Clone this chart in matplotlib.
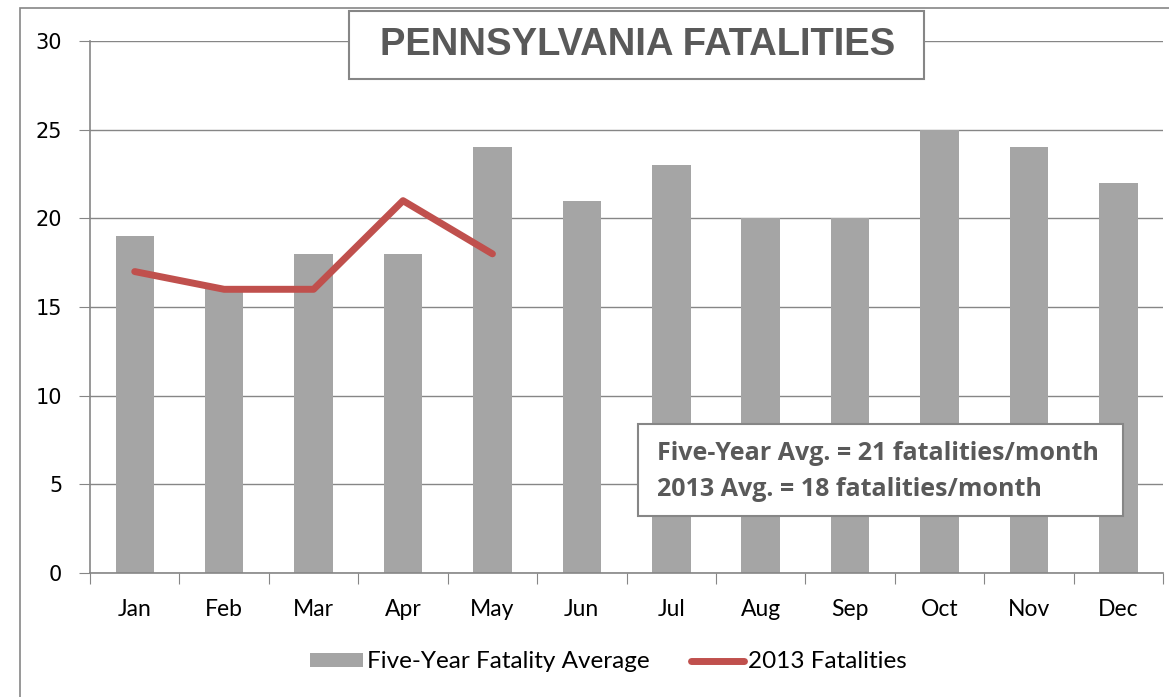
import matplotlib.pyplot as plt
from matplotlib.patches import Rectangle
from matplotlib.lines import Line2D
from matplotlib.patches import Patch

months = ["Jan", "Feb", "Mar", "Apr", "May", "Jun", "Jul", "Aug", "Sep", "Oct", "Nov", "Dec"]
five_year_avg = [19, 16, 18, 18, 24, 21, 23, 20, 20, 25, 24, 22]
fatalities_2013 = [17, 16, 16, 21, 18]

W, H = 1169, 697
fig = plt.figure(figsize=(W / 100, H / 100), dpi=100)
ax = fig.add_axes([0.077, 0.178, 0.918, 0.763])


def fig_box(x0, y0, x1, y1, **kw):
    # rectangle given in pixel coords (top-left origin)
    r = Rectangle((x0 / W, 1 - y1 / H), (x1 - x0) / W, (y1 - y0) / H,
                  transform=fig.transFigure, **kw)
    fig.patches.append(r)


# outer chart border (cropped on right/bottom)
fig_box(20, 8, 1400, 800, fill=False, edgecolor="#868686", lw=1.2)

x = list(range(len(months)))
ax.bar(x, five_year_avg, width=0.43, color="#A5A5A5", zorder=2)
ax.plot(x[:len(fatalities_2013)], fatalities_2013, color="#C0504D", lw=5,
        solid_capstyle="round", solid_joinstyle="round", zorder=3)

ax.set_xlim(-0.5, 11.5)
ax.set_ylim(0, 30)
ax.set_yticks(range(0, 31, 5))
ax.yaxis.grid(True, color="#868686", lw=1)
ax.set_axisbelow(True)

ax.set_xticks([i + 0.5 for i in range(-1, 12)], minor=False)
ax.set_xticklabels([])
ax.set_xticks(x, minor=True)
ax.set_xticklabels(months, minor=True, fontsize=16.5, family="Lato")
ax.tick_params(axis="x", which="major", length=8, color="#868686", direction="out")
ax.tick_params(axis="x", which="minor", length=0, pad=19)
ax.tick_params(axis="y", length=8, color="#868686", labelsize=15, pad=12)

for s in ["top", "right"]:
    ax.spines[s].set_visible(False)
for s in ["left", "bottom"]:
    ax.spines[s].set_color("#868686")
    ax.spines[s].set_linewidth(1.2)

# title box
fig_box(349, 11, 924, 79, facecolor="white", edgecolor="#868686", lw=1.5, zorder=5)
fig.text(638 / W, 1 - 45 / H, "PENNSYLVANIA FATALITIES", ha="center", va="center",
         fontsize=27.5, fontweight="bold", family="Liberation Sans", color="#595959",
         zorder=6)

# summary box
fig_box(638, 424, 1123, 516, facecolor="white", edgecolor="#868686", lw=1.5, zorder=5)
fig.text(657 / W, 1 - 453 / H, "Five-Year Avg. = 21 fatalities/month",
         ha="left", va="center", fontsize=18, fontweight="bold", family="Open Sans",
         color="#595959", zorder=6)
fig.text(657 / W, 1 - 489 / H, "2013 Avg. = 18 fatalities/month",
         ha="left", va="center", fontsize=18, fontweight="bold", family="Open Sans",
         color="#595959", zorder=6)

handles = [Patch(facecolor="#A5A5A5", edgecolor="none"),
           Line2D([0], [0], color="#C0504D", lw=5, solid_capstyle="round")]
fig.legend(handles, ["Five-Year Fatality Average", "2013 Fatalities"],
           loc="center", bbox_to_anchor=(608 / W, 1 - 662 / H), ncol=2,
           frameon=False, prop={"family": "Lato", "size": 17.5},
           handlelength=2.2, handleheight=0.55, handletextpad=0.15, columnspacing=1.7)

fig.savefig("out.png", dpi=100)
